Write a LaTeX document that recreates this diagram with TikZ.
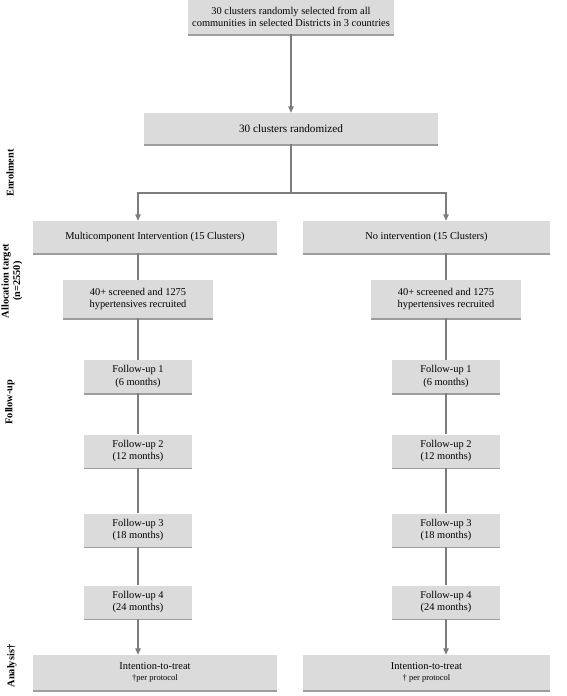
\documentclass[tikz,border=0pt]{standalone}
\usepackage{fontspec}
\setmainfont{Liberation Serif}
\usetikzlibrary{arrows.meta,shadows,calc}
\definecolor{boxgray}{RGB}{219,219,219}
\definecolor{linegray}{RGB}{125,125,125}
\tikzset{
  box/.style={fill=boxgray, draw=none, align=center, inner sep=1pt,
    font=\fontsize{10.4}{12.2}\selectfont,
    drop shadow={shadow xshift=0.4pt, shadow yshift=-1.6pt, fill=black!55, opacity=0.7}},
  conn/.style={draw=linegray, line width=1.2pt},
  arr/.style={conn, -{Triangle[width=5.5pt,length=6.5pt]}},
  side/.style={rotate=90, font=\bfseries\fontsize{10.3}{11.5}\selectfont, align=center, inner sep=0pt}
}
\begin{document}
\begin{tikzpicture}[x=1pt,y=-1pt]
\useasboundingbox (0,0) rectangle (566,696);

\node[box, minimum width=206pt, minimum height=34pt] (top) at (291,17)
  {30 clusters randomly selected from all\\communities in selected Districts in 3 countries};
\node[box, minimum width=294pt, minimum height=31pt, font=\fontsize{11.2}{13}\selectfont] (rand) at (291,128.5) {30 clusters randomized};

\node[box, minimum width=244pt, minimum height=32pt] (L1) at (155,237) {Multicomponent Intervention (15 Clusters)};
\node[box, minimum width=247pt, minimum height=32pt] (R1) at (426.5,237) {No intervention (15 Clusters)};

\node[box, minimum width=150pt, minimum height=38pt] (L2) at (138,299) {40+ screened and 1275\\hypertensives recruited};
\node[box, minimum width=150pt, minimum height=38pt] (R2) at (446,299) {40+ screened and 1275\\hypertensives recruited};

\node[box, minimum width=108pt, minimum height=33pt] (LF1) at (138,376.5) {Follow-up 1\\(6 months)};
\node[box, minimum width=108pt, minimum height=33pt] (RF1) at (446,376.5) {Follow-up 1\\(6 months)};
\node[box, minimum width=108pt, minimum height=33pt] (LF2) at (138,451) {Follow-up 2\\(12 months)};
\node[box, minimum width=108pt, minimum height=33pt] (RF2) at (446,451) {Follow-up 2\\(12 months)};
\node[box, minimum width=108pt, minimum height=33pt] (LF3) at (138,530) {Follow-up 3\\(18 months)};
\node[box, minimum width=108pt, minimum height=33pt] (RF3) at (446,530) {Follow-up 3\\(18 months)};
\node[box, minimum width=108pt, minimum height=33pt] (LF4) at (138,602) {Follow-up 4\\(24 months)};
\node[box, minimum width=108pt, minimum height=33pt] (RF4) at (446,602) {Follow-up 4\\(24 months)};

\node[box, minimum width=244pt, minimum height=35pt] (LA) at (155,672.5)
  {Intention-to-treat\\[-1pt]{\fontsize{8.5}{10}\selectfont \textdagger per protocol}};
\node[box, minimum width=247pt, minimum height=35pt] (RA) at (426.5,672.5)
  {Intention-to-treat\\[-1pt]{\fontsize{8.5}{10}\selectfont \textdagger{} per protocol}};

% side labels
\node[side] (s1) at (10,173) {Enrolment};
\node[side] (s2) at (12,281) {Allocation target\\(n=2550)};
\node[side] (s3) at (10,402) {Follow-up};
\node[side] (s4) at (12,666) {Analysis\textdagger};

% connectors
\coordinate (split) at (291,193);
\draw[arr] (top) -- (rand);
\draw[conn] (rand) -- (split);
\draw[arr] (split) -| (L1.north -| L2.north);
\draw[arr] (split) -| (R1.north -| R2.north);
\draw[conn] (L2.north |- L1.south) -- (L2.north);
\draw[conn] (R2.north |- R1.south) -- (R2.north);
\draw[conn] (L2) -- (LF1);
\draw[conn] (R2) -- (RF1);
\draw[conn] (LF1) -- (LF2);
\draw[conn] (RF1) -- (RF2);
\draw[conn] (LF2) -- (LF3);
\draw[conn] (RF2) -- (RF3);
\draw[conn] (LF3) -- (LF4);
\draw[conn] (RF3) -- (RF4);
\draw[arr] (LF4) -- (LA.north -| LF4.south);
\draw[arr] (RF4) -- (RA.north -| RF4.south);
\end{tikzpicture}
\end{document}
